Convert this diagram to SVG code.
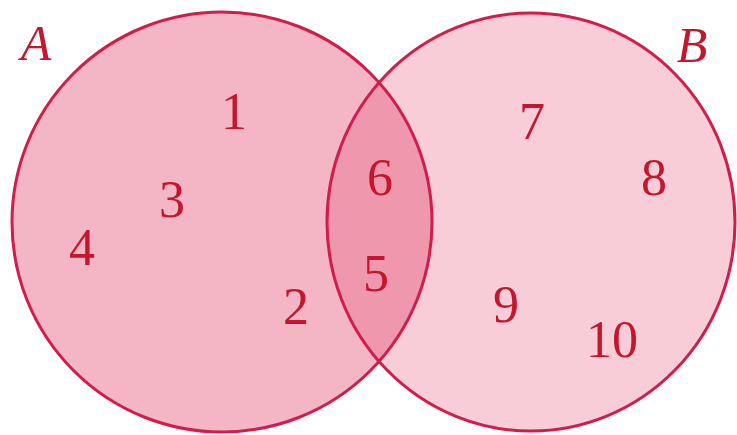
<svg xmlns="http://www.w3.org/2000/svg" width="737" height="435" viewBox="0 0 737 435">
<style>
.lbl{font-family:"Liberation Serif","DejaVu Serif",serif;font-size:52px;fill:#c4172f;text-anchor:middle}
.set{font-style:italic;font-size:50px}
.edge{fill:none;stroke:#d21d4c;stroke-width:3}
</style>
<defs>
<clipPath id="clipA"><circle cx="222" cy="222" r="210"/></clipPath>
</defs>
<rect width="737" height="435" fill="#ffffff"/>
<g id="setA"><circle cx="222" cy="222" r="210" fill="#f4b5c5"/></g>
<g id="setB"><ellipse cx="531" cy="222" rx="204" ry="209" fill="#f8cdd7"/></g>
<g id="intersection"><ellipse cx="531" cy="222" rx="204" ry="209" fill="#ee97ad" clip-path="url(#clipA)"/></g>
<g id="connectors">
<circle class="edge" cx="222" cy="222" r="210"/>
<ellipse class="edge" cx="531" cy="222" rx="204" ry="209"/>
</g>
<g id="labels">
<text class="lbl set" x="36" y="60">A</text>
<text class="lbl set" x="692" y="62">B</text>
<text class="lbl" x="234" y="129">1</text>
<text class="lbl" x="172" y="217">3</text>
<text class="lbl" x="82" y="265">4</text>
<text class="lbl" x="296" y="324">2</text>
<text class="lbl" x="380" y="195">6</text>
<text class="lbl" x="376" y="291">5</text>
<text class="lbl" x="532" y="139">7</text>
<text class="lbl" x="654" y="195">8</text>
<text class="lbl" x="506" y="322">9</text>
<text class="lbl" x="612" y="357">10</text>
</g>
</svg>
